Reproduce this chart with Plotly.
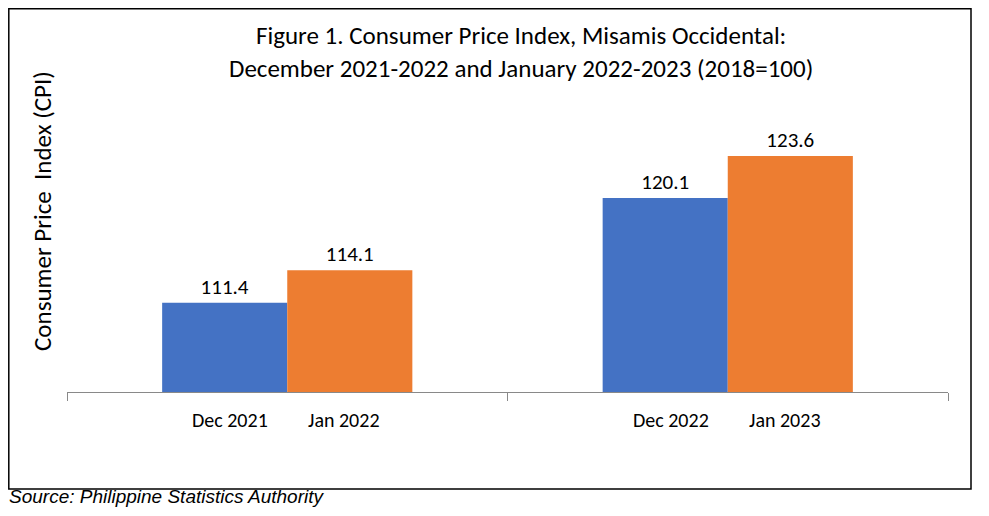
import plotly.graph_objects as go

groups = ["2021-2022", "2022-2023"]
dec_labels = ["Dec 2021", "Dec 2022"]
jan_labels = ["Jan 2022", "Jan 2023"]
dec_values = [111.4, 120.1]
jan_values = [114.1, 123.6]

FONT = "Calibri, Carlito, Lato, 'Open Sans', sans-serif"
BLUE = "#4472C4"
ORANGE = "#ED7D31"

OFF = 8  # page body margin
W, H = 989 - 2 * OFF, 516 - 2 * OFF
# plot area in screen pixels
PX0, PX1, PY0, PY1 = 67, 948, 127, 392
L, R, T, B = PX0 - OFF, W - (PX1 - OFF), PY0 - OFF, H - (PY1 - OFF)
pw, ph = PX1 - PX0, PY1 - PY0


def px(x):
    return (x - PX0) / pw


def py(y):
    return (PY1 - y) / ph


fig = go.Figure()
fig.add_trace(go.Bar(x=groups, y=dec_values, name="December", marker_color=BLUE,
                     marker_line_width=0, text=[f"{v:.1f}" for v in dec_values],
                     textposition="outside", textfont=dict(size=21, color="#000", family=FONT),
                     cliponaxis=False))
fig.add_trace(go.Bar(x=groups, y=jan_values, name="January", marker_color=ORANGE,
                     marker_line_width=0, text=[f"{v:.1f}" for v in jan_values],
                     textposition="outside", textfont=dict(size=21, color="#000", family=FONT),
                     cliponaxis=False))

annotations = []
for g, d, j in zip(groups, dec_labels, jan_labels):
    annotations.append(dict(x=g, y=0, xref="x", yref="paper", text=d, showarrow=False,
                            xshift=-57, yshift=-14, yanchor="top",
                            font=dict(size=20, family=FONT, color="#000")))
    annotations.append(dict(x=g, y=0, xref="x", yref="paper", text=j, showarrow=False,
                            xshift=57, yshift=-14, yanchor="top",
                            font=dict(size=20, family=FONT, color="#000")))

annotations.append(dict(x=px(7), y=py(509), xref="paper", yref="paper",
                        xanchor="left", yanchor="bottom", showarrow=False,
                        text="<i>Source: Philippine Statistics Authority</i>",
                        font=dict(size=19, family="Liberation Sans, Arial, sans-serif", color="#000")))

annotations.append(dict(x=px(521), y=py(52), xref="paper", yref="paper",
                        xanchor="center", yanchor="middle", showarrow=False,
                        text="Figure 1. Consumer Price Index, Misamis Occidental:<br>December 2021-2022 and January 2022-2023 (2018=100)",
                        font=dict(size=25, family=FONT, color="#000")))

annotations.append(dict(x=px(42), y=py(211), xref="paper", yref="paper",
                        xanchor="center", yanchor="middle", showarrow=False, textangle=-90,
                        text="Consumer Price  Index (CPI)",
                        font=dict(size=25, family=FONT, color="#000")))

fig.update_layout(
    width=W, height=H,
    margin=dict(l=L, r=R, t=T, b=B),
    paper_bgcolor="white", plot_bgcolor="white",
    barmode="group", bargap=0.432, bargroupgap=0,
    showlegend=False,
    annotations=annotations,
    shapes=[dict(type="rect", xref="paper", yref="paper",
                 x0=px(OFF + 0.8), x1=px(971), y0=py(489), y1=py(OFF + 0.8),
                 line=dict(color="#000", width=1.5), fillcolor="rgba(0,0,0,0)")],
)
fig.update_xaxes(type="category", showticklabels=False, ticks="outside", tickson="boundaries",
                 ticklen=8, tickcolor="#898989", showline=True, linecolor="#898989",
                 linewidth=1.3, showgrid=False, zeroline=False)
fig.update_yaxes(range=[104, 126], showticklabels=False, showgrid=False, zeroline=False,
                 showline=False, ticks="")

fig.write_html("out.html")
